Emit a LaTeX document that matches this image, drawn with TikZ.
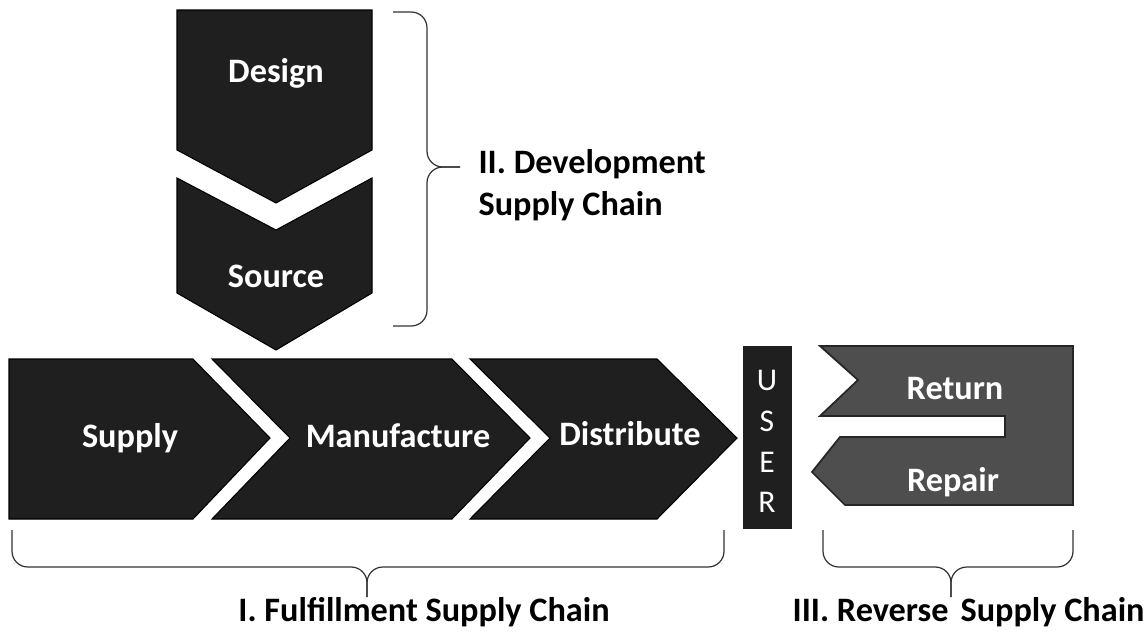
\documentclass[tikz,border=0pt]{standalone}
\usepackage{fontspec}
\setmainfont{Carlito}
\usepackage{tikz}

\definecolor{darkfill}{HTML}{1F1F1F}
\definecolor{midfill}{HTML}{4E4E4E}

\begin{document}
\begin{tikzpicture}[x=0.02cm,y=-0.02cm,thick,
  chev/.style={fill=darkfill,draw=black,line width=0.6pt},
  revshape/.style={fill=midfill,draw=black!85,line width=1pt},
  inlabel/.style={text=white,font=\fontsize{19.5}{23}\selectfont\bfseries},
  outlabel/.style={text=black,font=\fontsize{19.5}{24}\selectfont\bfseries},
  userletter/.style={text=white,font=\fontsize{18}{20}\selectfont},
  brace/.style={draw=black!80,line width=0.7pt,rounded corners=9}]

  \useasboundingbox (0,0) rectangle (1148,632);

  % development chain (vertical)
  \fill[chev] (177,10) -- (372,10) -- (372,150) -- (276,203) -- (177,150) -- cycle;
  \fill[chev] (177,178) -- (276,230) -- (372,178) -- (372,293) -- (276,350) -- (177,293) -- cycle;
  \node[inlabel] (design) at (276,73) {Design};
  \node[inlabel] (source) at (276,276) {Source};

  % fulfillment chain
  \fill[chev] (9,359) -- (193,359) -- (270,438) -- (193,519) -- (9,519) -- cycle;
  \fill[chev] (212,359) -- (452,359) -- (530,438) -- (452,519) -- (212,519) -- (290,438) -- cycle;
  \fill[chev] (470,359) -- (657,359) -- (737,438) -- (657,519) -- (470,519) -- (550,438) -- cycle;
  \node[inlabel] (supply) at (130,438) {Supply};
  \node[inlabel] (manufacture) at (398,436) {Manufacture};
  \node[inlabel] (distribute) at (630,434) {Distribute};

  % user bar
  \fill[darkfill] (743,346) rectangle (792,529);
  \node[userletter] (u) at (767,380) {U};
  \node[userletter] (s) at (767,421) {S};
  \node[userletter] (e) at (767,462) {E};
  \node[userletter] (r) at (767,502) {R};

  % reverse chain
  \filldraw[revshape] (820,346) -- (1073,346) -- (1073,505) -- (845,505) -- (812,472)
    -- (840,437) -- (1005,437) -- (1005,416) -- (820,416) -- (858,380) -- cycle;
  \node[inlabel] (return) at (955,389) {Return};
  \node[inlabel] (repair) at (953,482) {Repair};

  % braces
  \draw[brace] (393,12) -- (427,12) -- (427,167) -- (460,167);
  \draw[brace] (393,326) -- (427,326) -- (427,167) -- (460,167);
  \node[outlabel,anchor=west,align=left] (devlabel) at (472,185) {II. Development\\Supply Chain};

  \draw[brace] (12,530) -- (12,567) -- (367,567) -- (367,597);
  \draw[brace] (724,530) -- (724,567) -- (367,567) -- (367,597);
  \node[outlabel] (fullabel) at (424,612) {I. Fulfillment Supply Chain};

  \draw[brace] (823,530) -- (823,567) -- (951,567) -- (951,597);
  \draw[brace] (1073,530) -- (1073,567) -- (951,567) -- (951,597);
  \node[outlabel,anchor=east,inner sep=1pt] (revlabel) at (1147,612) {III. Reverse\hspace{0.35em}Supply Chain};
\end{tikzpicture}
\end{document}
